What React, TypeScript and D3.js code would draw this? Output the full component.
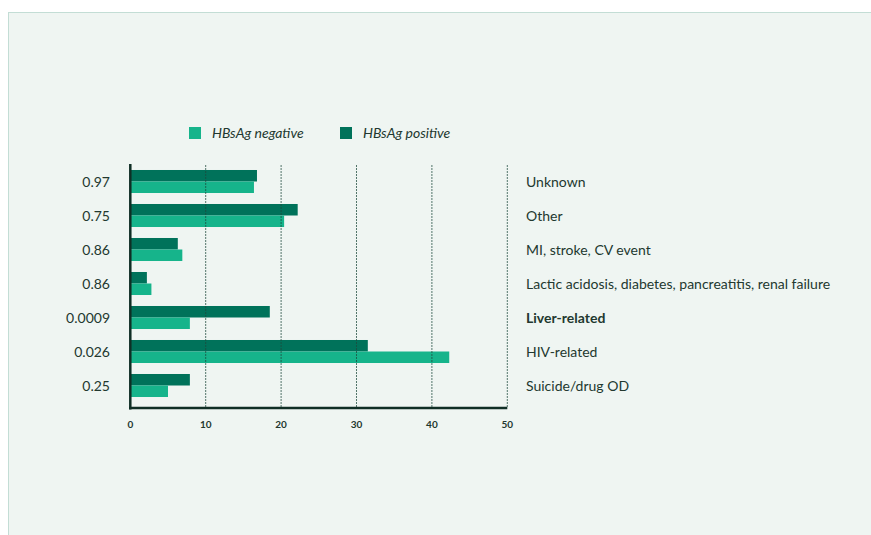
import React from "react";
import * as d3 from "d3";

const categories = [
  "Unknown",
  "Other",
  "MI, stroke, CV event",
  "Lactic acidosis, diabetes, pancreatitis, renal failure",
  "Liver-related",
  "HIV-related",
  "Suicide/drug OD",
];
const pValues = ["0.97", "0.75", "0.86", "0.86", "0.0009", "0.026", "0.25"];
const boldCategories = ["Liver-related"];
const negativeValues = [16.4, 20.4, 6.9, 2.8, 7.9, 42.3, 5.0];
const positiveValues = [16.8, 22.2, 6.3, 2.2, 18.5, 31.5, 7.9];
const xTicks = [0, 10, 20, 30, 40, 50];
const seriesNames = ["HBsAg negative", "HBsAg positive"];

const W = 871;
const H = 535;
const NEG = "#16b48b";
const POS = "#00725a";
const DARK = "#0f2e25";
const TEXT = "#22382f";
const FONT = "Lato, 'Open Sans', sans-serif";

export default function App() {
  const x = d3.scaleLinear().domain([0, 50]).range([130.3, 507.3]);
  const y = d3.scaleBand<string>().domain(categories).range([164.5, 402.5]).paddingInner(0.323).paddingOuter(0.323 / 2);
  const half = y.bandwidth() / 2;

  return (
    <svg width={W} height={H} style={{ position: "absolute", left: 0, top: 0 }} fontFamily={FONT}>
      <rect x={0} y={0} width={W} height={H} fill="#ffffff" />
      <rect x={8.5} y={12.5} width={W} height={H} fill="#eff5f2" stroke="#c3ddd5" strokeWidth={1} />

      {/* legend */}
      {seriesNames.map((name, i) => {
        const lx = [189, 340][i];
        return (
          <g key={name}>
            <rect x={lx} y={127} width={12} height={12} fill={i === 0 ? NEG : POS} />
            <text x={lx + 23} y={138} fontSize={14} fontStyle="italic" fill={TEXT}>
              {name}
            </text>
          </g>
        );
      })}

      {/* bars */}
      {categories.map((c, i) => {
        const top = y(c)!;
        return (
          <g key={c}>
            <rect x={x(0)} y={top} width={x(positiveValues[i]) - x(0)} height={half} fill={POS} />
            <rect x={x(0)} y={top + half} width={x(negativeValues[i]) - x(0)} height={half} fill={NEG} />
            <text x={110} y={top + half + 5} fontSize={14} textAnchor="end" fill={TEXT}>
              {pValues[i]}
            </text>
            <text
              x={526}
              y={top + half + 5}
              fontSize={14}
              fill={TEXT}
              fontWeight={boldCategories.includes(c) ? 700 : 400}
            >
              {c}
            </text>
          </g>
        );
      })}

      {/* grid lines */}
      {xTicks.filter((t) => t > 0).map((t) => (
        <line
          key={t}
          x1={x(t)}
          x2={x(t)}
          y1={165}
          y2={408}
          stroke="#1d4a3c"
          strokeOpacity={0.75}
          strokeWidth={1}
          strokeDasharray="2,1"
        />
      ))}

      {/* axes */}
      <line x1={x(0)} x2={x(0)} y1={164} y2={409.5} stroke={DARK} strokeWidth={2.5} />
      <line x1={x(0) - 1.2} x2={x(50)} y1={408} y2={408} stroke={DARK} strokeWidth={2.5} />
      {xTicks.map((t) => (
        <text key={t} x={x(t)} y={428} fontSize={10} fontWeight={700} textAnchor="middle" fill={TEXT}>
          {t}
        </text>
      ))}
    </svg>
  );
}
